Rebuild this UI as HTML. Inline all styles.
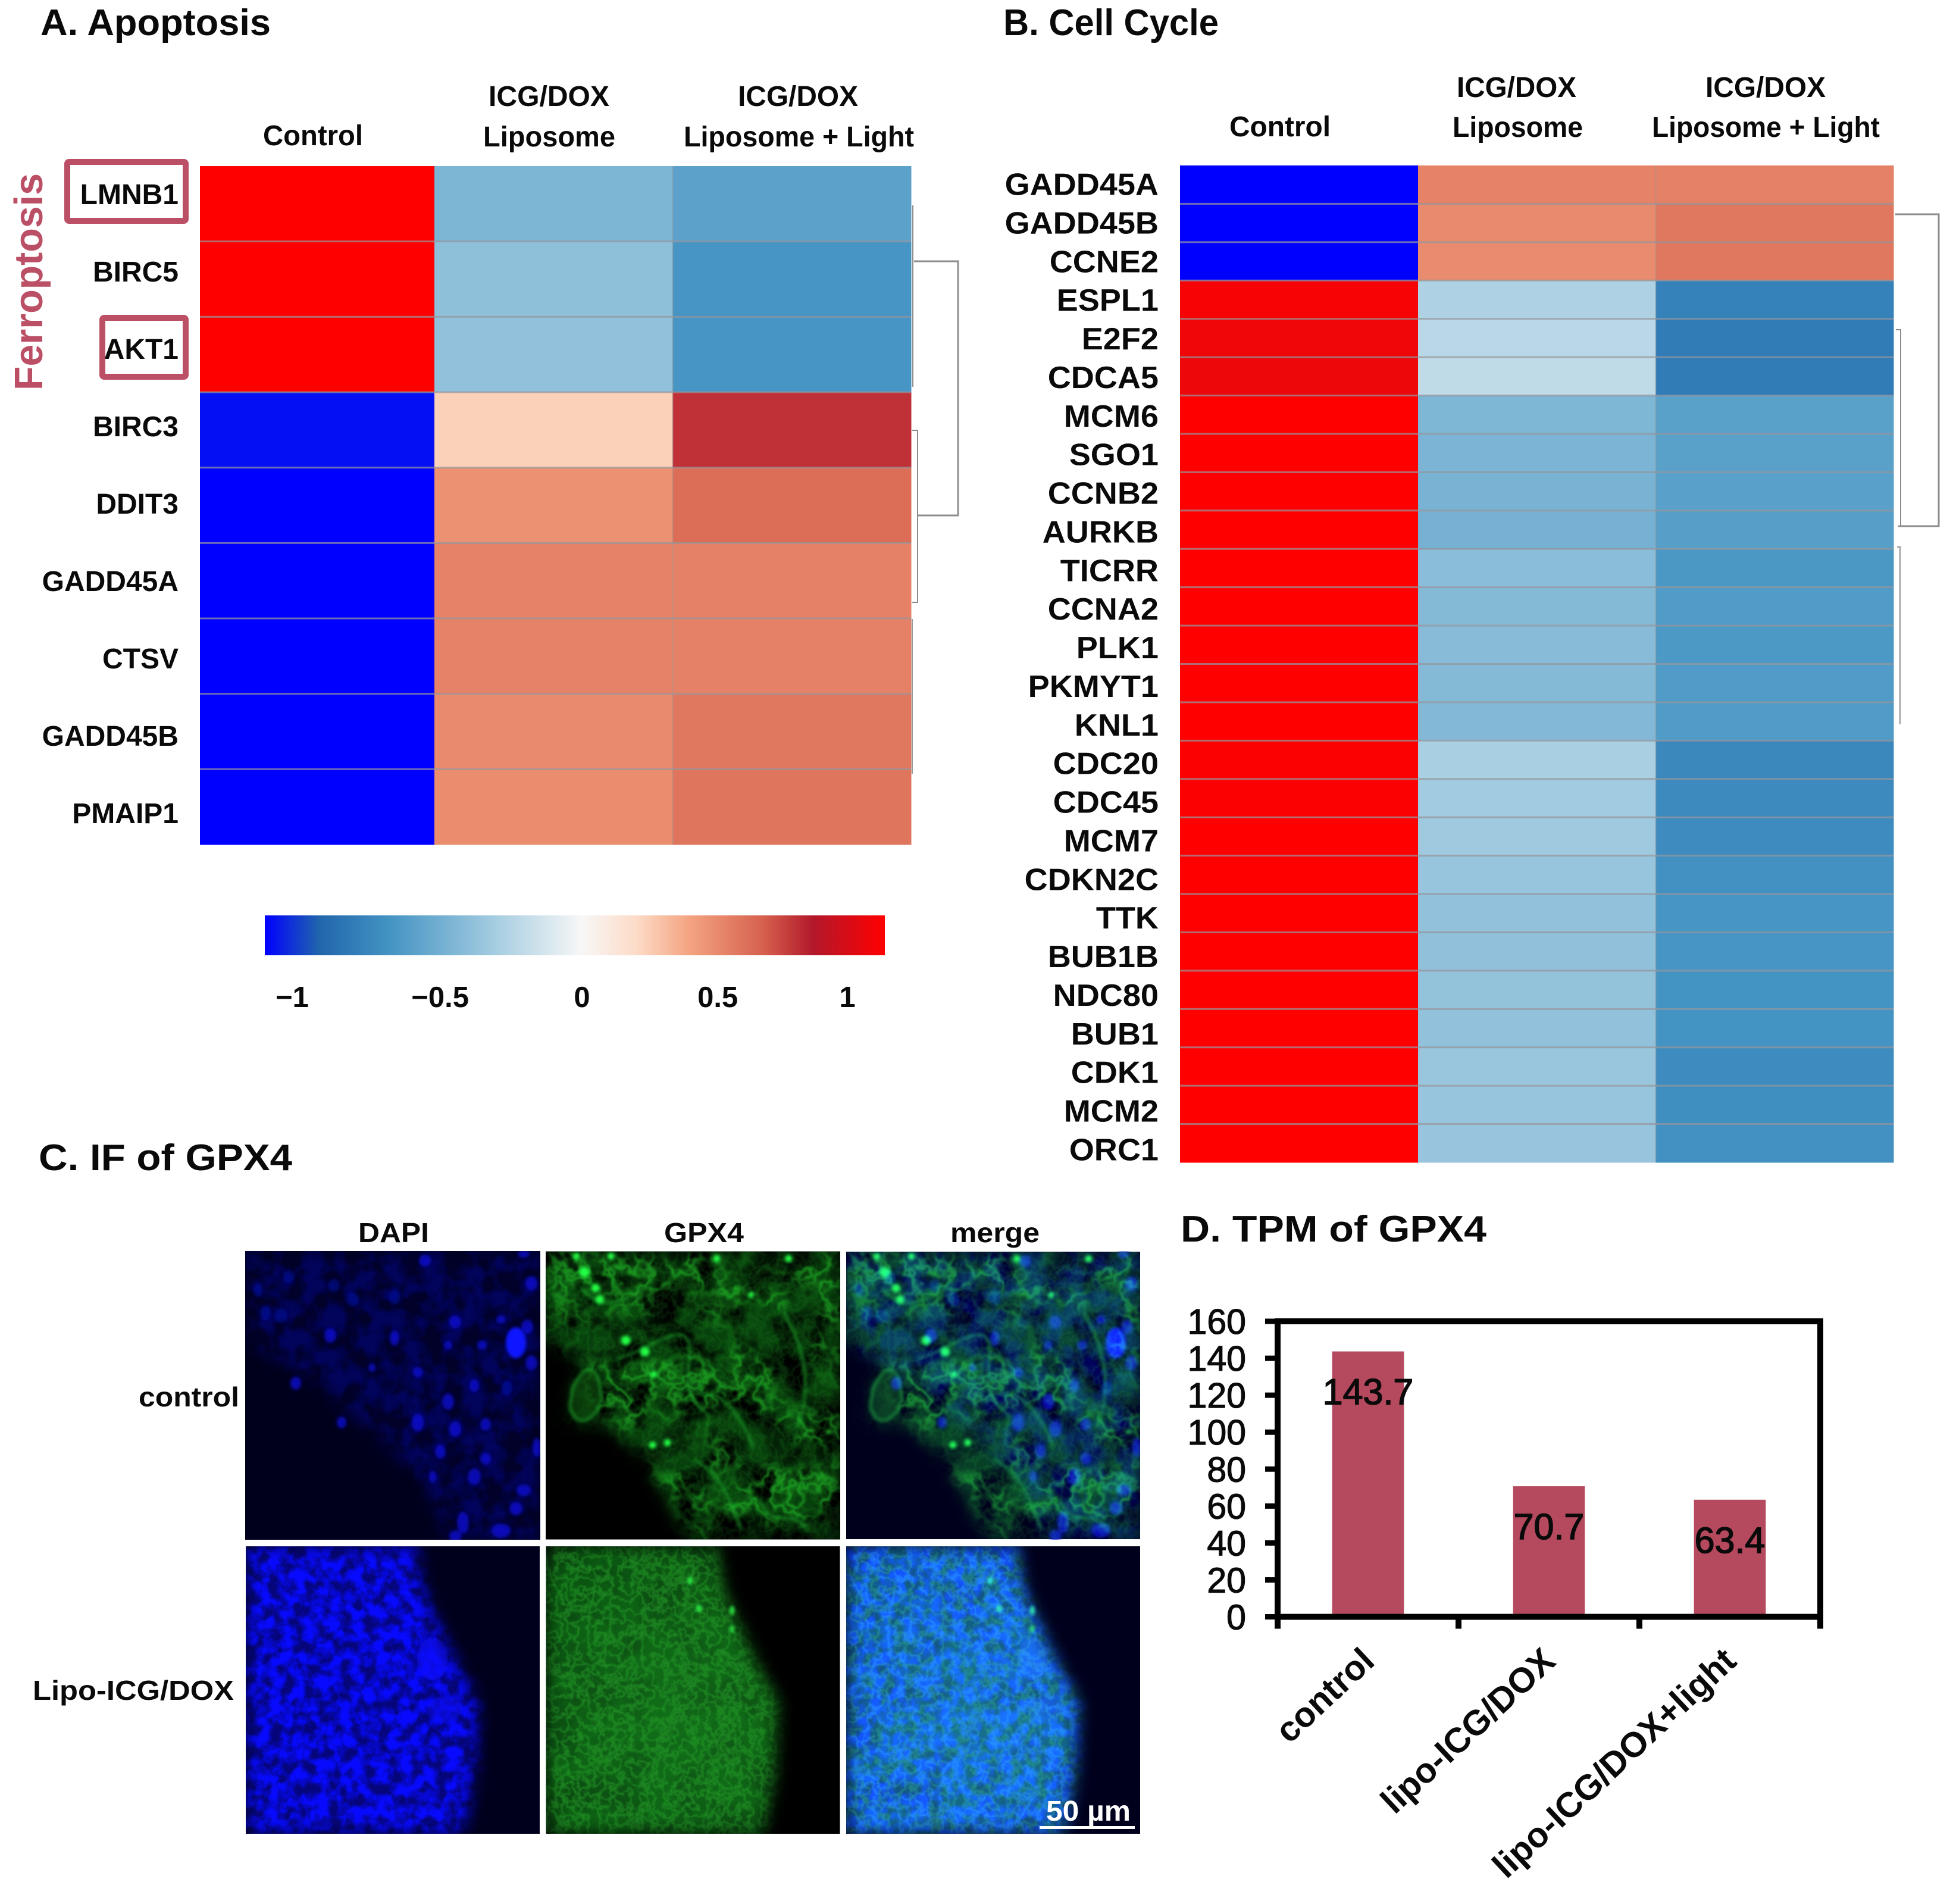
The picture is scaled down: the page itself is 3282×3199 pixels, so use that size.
<!DOCTYPE html>
<html lang="en">
<head>
<meta charset="utf-8">
<title>Apoptosis, cell cycle and GPX4 figure</title>
<style>
html,body{margin:0;padding:0;background:#fff;}
body{width:3282px;height:3199px;overflow:hidden;}
svg text{font-family:"Liberation Sans",sans-serif;fill:#0a0a0a;}
.b{font-weight:bold;}
</style>
</head>
<body>
<svg id="figure" xmlns="http://www.w3.org/2000/svg" width="3282" height="3199" viewBox="0 0 3282 3199" style="display:block">
<defs>
  <filter id="soft" x="-30%" y="-30%" width="160%" height="160%"><feGaussianBlur stdDeviation="3"/></filter>
  <filter id="mask-blur" filterUnits="userSpaceOnUse" x="-40" y="-40" width="576" height="565"><feGaussianBlur stdDeviation="13"/></filter>
  <filter id="blue-noise" filterUnits="userSpaceOnUse" x="0" y="0" width="496" height="485" color-interpolation-filters="sRGB">
    <feTurbulence type="fractalNoise" baseFrequency="0.03" numOctaves="3" seed="4"/>
    <feColorMatrix values="0 0 0 0 0.02  0 0 0 0 0.03  0 0 0 0 0.8  3.2 0 0 0 -1.05"/>
  </filter>
  <filter id="blue-lipo" filterUnits="userSpaceOnUse" x="0" y="0" width="496" height="485" color-interpolation-filters="sRGB">
    <feTurbulence type="fractalNoise" baseFrequency="0.05" numOctaves="3" seed="12"/>
    <feColorMatrix values="0 0 0 0 0.03  0 0 0 0 0.04  0 0 0 0 1  3 0 0 0 -0.95"/>
    <feGaussianBlur stdDeviation="0.8"/>
  </filter>
  <filter id="green-cloud" filterUnits="userSpaceOnUse" x="0" y="0" width="496" height="485" color-interpolation-filters="sRGB">
    <feTurbulence type="fractalNoise" baseFrequency="0.018" numOctaves="3" seed="9"/>
    <feColorMatrix values="0 0 0 0 0.05  0 0 0 0 0.42  0 0 0 0 0.08  3 0 0 0 -0.9"/>
  </filter>
  <filter id="green-veins" filterUnits="userSpaceOnUse" x="0" y="0" width="496" height="485" color-interpolation-filters="sRGB">
    <feTurbulence type="fractalNoise" baseFrequency="0.028" numOctaves="3" seed="21" result="a"/>
    <feColorMatrix in="a" values="0 0 0 0 0.12  0 0 0 0 0.72  0 0 0 0 0.15  1 0 0 0 0"/>
    <feComponentTransfer result="v"><feFuncA type="table" tableValues="0 0 0 0 0 0 0 0 0.2 0.5 0.95 0.5 0.2 0 0 0 0 0 0 0 0"/></feComponentTransfer>
    <feTurbulence type="fractalNoise" baseFrequency="0.011" numOctaves="2" seed="5"/>
    <feColorMatrix values="0 0 0 0 0  0 0 0 0 0  0 0 0 0 0  5 0 0 0 -2.1" result="patch"/>
    <feComposite in="v" in2="patch" operator="in"/>
    <feGaussianBlur stdDeviation="1"/>
  </filter>
  <filter id="green-fine" filterUnits="userSpaceOnUse" x="0" y="0" width="496" height="485" color-interpolation-filters="sRGB">
    <feTurbulence type="fractalNoise" baseFrequency="0.055" numOctaves="3" seed="33"/>
    <feColorMatrix values="0 0 0 0 0.15  0 0 0 0 0.62  0 0 0 0 0.16  1 0 0 0 0"/>
    <feComponentTransfer><feFuncA type="table" tableValues="0 0 0 0 0 0 0 0 0.2 0.45 0.8 0.45 0.2 0 0 0 0 0 0 0 0"/></feComponentTransfer>
    <feGaussianBlur stdDeviation="0.8"/>
  </filter>
  <radialGradient id="lipo-glow" gradientUnits="userSpaceOnUse" cx="230" cy="290" r="300">
    <stop offset="0" stop-color="#1a8a22" stop-opacity=".45"/><stop offset="1" stop-color="#1a8a22" stop-opacity="0"/>
  </radialGradient>
  <mask id="ctrl-dapi-mask" maskUnits="userSpaceOnUse" x="0" y="0" width="496" height="485">
    <polygon points="0,0 496,0 496,485 340,485 300,390 230,320 130,230 0,150" fill="#fff" filter="url(#mask-blur)"/>
  </mask>
  <mask id="ctrl-gfp-mask" maskUnits="userSpaceOnUse" x="0" y="0" width="496" height="485">
    <polygon points="0,0 496,0 496,485 240,485 180,370 110,290 30,290 60,190 0,150" fill="#fff" filter="url(#mask-blur)"/>
  </mask>
  <mask id="lipo-mask" maskUnits="userSpaceOnUse" x="0" y="0" width="496" height="485">
    <polygon points="0,0 288,0 300,75 350,185 392,265 386,385 366,485 0,485" fill="#fff" filter="url(#mask-blur)"/>
  </mask>

  <g id="ctrl-dapi-art">
    <g mask="url(#ctrl-dapi-mask)">
      <rect width="496" height="485" fill="#05059a" opacity="0.1"/>
      <rect width="496" height="485" filter="url(#blue-noise)" opacity="0.3"/>
    </g>
    <g fill="#0a10d8" filter="url(#soft)" opacity=".78">
      <ellipse cx="474" cy="127" rx="10" ry="12"/><ellipse cx="481" cy="188" rx="10" ry="13"/>
      <ellipse cx="341" cy="253" rx="10" ry="14"/><ellipse cx="290" cy="288" rx="10" ry="15"/><ellipse cx="353" cy="299" rx="10" ry="13"/>
      <ellipse cx="404" cy="291" rx="9" ry="11"/><ellipse cx="328" cy="337" rx="9" ry="12"/><ellipse cx="162" cy="288" rx="8" ry="10"/>
      <ellipse cx="85" cy="222" rx="9" ry="11"/><ellipse cx="290" cy="203" rx="8" ry="9"/><ellipse cx="251" cy="146" rx="8" ry="13"/>
      <ellipse cx="143" cy="142" rx="10" ry="12"/><ellipse cx="60" cy="108" rx="11" ry="13" opacity=".55"/><ellipse cx="181" cy="81" rx="10" ry="12" opacity=".55"/>
      <ellipse cx="251" cy="77" rx="10" ry="13" opacity=".55"/><ellipse cx="302" cy="16" rx="10" ry="10"/><ellipse cx="353" cy="119" rx="10" ry="11"/>
      <ellipse cx="398" cy="158" rx="8" ry="8"/><ellipse cx="341" cy="158" rx="7" ry="7"/><ellipse cx="430" cy="115" rx="8" ry="7"/>
      <ellipse cx="481" cy="54" rx="10" ry="12"/><ellipse cx="468" cy="5" rx="10" ry="6"/><ellipse cx="385" cy="379" rx="11" ry="14"/>
      <ellipse cx="468" cy="402" rx="12" ry="10"/><ellipse cx="455" cy="433" rx="11" ry="11"/><ellipse cx="366" cy="456" rx="10" ry="18"/>
      <ellipse cx="353" cy="479" rx="10" ry="10"/><ellipse cx="404" cy="349" rx="9" ry="10"/><ellipse cx="315" cy="379" rx="6" ry="10"/>
      <ellipse cx="213" cy="196" rx="6" ry="7"/><ellipse cx="385" cy="226" rx="8" ry="11"/><ellipse cx="149" cy="58" rx="10" ry="11" opacity=".5"/>
      <ellipse cx="73" cy="43" rx="10" ry="11" opacity=".5"/><ellipse cx="34" cy="104" rx="9" ry="12" opacity=".55"/><ellipse cx="22" cy="66" rx="8" ry="11" opacity=".5"/>
      <ellipse cx="430" cy="470" rx="16" ry="12"/><ellipse cx="490" cy="330" rx="7" ry="16"/><ellipse cx="440" cy="230" rx="9" ry="12" opacity=".6"/>
    </g>
    <ellipse cx="455" cy="154" rx="17" ry="26" fill="#1018ff" filter="url(#soft)"/>
  </g>

  <g id="ctrl-gfp-art">
    <g mask="url(#ctrl-gfp-mask)">
      <rect width="496" height="485" filter="url(#green-cloud)" opacity="0.6"/>
      <rect width="496" height="485" filter="url(#green-veins)" opacity="0.8"/>
      <rect width="496" height="485" filter="url(#green-fine)" opacity="0.25"/>
    </g>
    <g fill="none" stroke="#1fa82a" stroke-width="4" filter="url(#soft)" opacity=".7">
      <path d="M45 230 C70 180 90 190 95 250 C80 290 50 300 40 260Z" fill="#0a4a10"/>
      <path d="M250 350 C300 380 310 420 330 470"/><path d="M360 420 C380 470 420 430 440 470"/>
      <path d="M250 240 C300 230 330 280 350 330"/><path d="M400 100 C440 170 450 240 420 300"/>
      <path d="M120 180 C170 170 220 120 240 150 C250 190 220 240 270 270"/><path d="M60 60 C90 100 120 90 170 60"/>
    </g>
    <g fill="#22ff44" filter="url(#soft)">
      <circle cx="65" cy="35" r="9"/><circle cx="84" cy="62" r="7"/><circle cx="91" cy="81" r="7"/><circle cx="135" cy="150" r="8"/>
      <circle cx="167" cy="169" r="8"/><circle cx="182" cy="207" r="6"/><circle cx="205" cy="322" r="6"/><circle cx="180" cy="326" r="6"/>
      <circle cx="52" cy="8" r="6"/><circle cx="110" cy="8" r="6"/><circle cx="288" cy="12" r="6"/><circle cx="409" cy="12" r="6"/><circle cx="346" cy="73" r="5"/>
    </g>
  </g>

  <g id="lipo-dapi-art">
    <g mask="url(#lipo-mask)">
      <rect width="496" height="485" fill="#06067a"/>
      <rect width="496" height="485" filter="url(#blue-lipo)"/>
      <ellipse cx="315" cy="190" rx="26" ry="36" fill="#1010ff" opacity=".75" filter="url(#soft)"/>
      <ellipse cx="335" cy="275" rx="30" ry="22" fill="#0c0ce6" opacity=".55" filter="url(#soft)"/>
    </g>
  </g>

  <g id="lipo-gfp-art">
    <g mask="url(#lipo-mask)">
      <rect width="496" height="485" fill="#0a4510"/>
      <rect width="496" height="485" filter="url(#green-cloud)" opacity=".6"/>
      <rect width="496" height="485" fill="url(#lipo-glow)"/>
      <rect width="496" height="485" filter="url(#green-fine)" opacity=".8"/>
    </g>
    <g fill="#2cf044" filter="url(#soft)">
      <ellipse cx="243" cy="58" rx="4" ry="7"/><ellipse cx="258" cy="105" rx="5" ry="6"/><ellipse cx="314" cy="108" rx="4" ry="8"/><ellipse cx="314" cy="140" rx="3" ry="7"/>
    </g>
  </g>
</defs>

<rect width="3282" height="3199" fill="#fff"/>

<g id="panel-a">
  <text class="b" x="68" y="59" font-size="62" textLength="387" lengthAdjust="spacingAndGlyphs">A. Apoptosis</text>
  <text class="b" x="442" y="244" font-size="48" textLength="168" lengthAdjust="spacingAndGlyphs">Control</text>
  <text class="b" x="821" y="178" font-size="48" textLength="203" lengthAdjust="spacingAndGlyphs">ICG/DOX</text>
  <text class="b" x="812" y="246" font-size="48" textLength="222" lengthAdjust="spacingAndGlyphs">Liposome</text>
  <text class="b" x="1240" y="178" font-size="48" textLength="202" lengthAdjust="spacingAndGlyphs">ICG/DOX</text>
  <text class="b" x="1149" y="246" font-size="48" textLength="387" lengthAdjust="spacingAndGlyphs">Liposome + Light</text>
  <text class="b" transform="translate(71,656) rotate(-90)" font-size="67" textLength="365" lengthAdjust="spacingAndGlyphs" style="fill:#bb4f65">Ferroptosis</text>
  <g id="heat-a"></g>
  <rect x="113" y="272" width="199" height="99" rx="3" fill="none" stroke="#bb4f65" stroke-width="10"/>
  <rect x="172" y="534" width="140" height="99" rx="3" fill="none" stroke="#bb4f65" stroke-width="10"/>
  <g fill="none" stroke="#8c8c8c" stroke-width="3">
    <path d="M1536 439H1610V866H1543"/>
    <path d="M1534 345V650" stroke-width="2"/>
    <path d="M1533 723H1542V1012H1533" stroke-width="2"/>
    <path d="M1533 1040V1300" stroke="#777" stroke-width="1.5"/>
  </g>
  <rect id="colorbar" x="445" y="1538" width="1042" height="67"/>
  <g id="colorbar-ticks"></g>
</g>

<g id="panel-b">
  <text class="b" x="1686" y="59" font-size="62" textLength="362" lengthAdjust="spacingAndGlyphs">B. Cell Cycle</text>
  <text class="b" x="2066" y="229" font-size="48" textLength="170" lengthAdjust="spacingAndGlyphs">Control</text>
  <text class="b" x="2448" y="163" font-size="48" textLength="201" lengthAdjust="spacingAndGlyphs">ICG/DOX</text>
  <text class="b" x="2441" y="230" font-size="48" textLength="219" lengthAdjust="spacingAndGlyphs">Liposome</text>
  <text class="b" x="2866" y="163" font-size="48" textLength="202" lengthAdjust="spacingAndGlyphs">ICG/DOX</text>
  <text class="b" x="2776" y="230" font-size="48" textLength="383" lengthAdjust="spacingAndGlyphs">Liposome + Light</text>
  <g id="heat-b"></g>
  <g fill="none" stroke="#8c8c8c" stroke-width="3">
    <path d="M3185 360H3258V884H3190"/>
    <path d="M3186 554H3194V884" stroke-width="2"/>
    <path d="M3188 919H3193V1217" stroke-width="3" stroke="#aaa"/>
  </g>
</g>

<g id="panel-c">
  <text class="b" x="65" y="1966" font-size="62" textLength="426" lengthAdjust="spacingAndGlyphs">C. IF of GPX4</text>
  <text class="b" x="602" y="2087" font-size="46" textLength="119" lengthAdjust="spacingAndGlyphs">DAPI</text>
  <text class="b" x="1116" y="2087" font-size="46" textLength="134" lengthAdjust="spacingAndGlyphs">GPX4</text>
  <text class="b" x="1597" y="2087" font-size="46" textLength="150" lengthAdjust="spacingAndGlyphs">merge</text>
  <text class="b" x="233" y="2363" font-size="46" textLength="169" lengthAdjust="spacingAndGlyphs">control</text>
  <text class="b" x="55" y="2856" font-size="46" textLength="338" lengthAdjust="spacingAndGlyphs">Lipo-ICG/DOX</text>

  <svg x="412" y="2102" width="496" height="485" viewBox="0 0 496 485">
    <rect width="496" height="485" fill="#00001c"/><use href="#ctrl-dapi-art"/>
  </svg>
  <svg x="917" y="2102" width="495" height="485" viewBox="0 0 496 485">
    <rect width="496" height="485" fill="#000"/><use href="#ctrl-gfp-art"/>
  </svg>
  <svg x="1422" y="2102" width="494" height="485" viewBox="0 0 496 485">
    <g style="isolation:isolate"><rect width="496" height="485" fill="#00001c"/><use href="#ctrl-dapi-art"/><use href="#ctrl-gfp-art" style="mix-blend-mode:screen"/></g>
  </svg>
  <svg x="412" y="2598" width="496" height="483" viewBox="0 0 496 485">
    <rect width="496" height="485" fill="#00001c"/><use href="#lipo-dapi-art"/>
  </svg>
  <svg x="917" y="2598" width="495" height="483" viewBox="0 0 496 485">
    <rect width="496" height="485" fill="#000"/><use href="#lipo-gfp-art"/>
  </svg>
  <svg x="1422" y="2598" width="494" height="483" viewBox="0 0 496 485">
    <g style="isolation:isolate"><rect width="496" height="485" fill="#00001c"/><use href="#lipo-dapi-art"/><use href="#lipo-gfp-art" style="mix-blend-mode:screen"/></g>
  </svg>
  <text class="b" x="1758" y="3059" font-size="48" textLength="142" lengthAdjust="spacingAndGlyphs" style="fill:#fff">50 µm</text>
  <rect x="1747" y="3068" width="160" height="5" fill="#fff"/>
</g>

<g id="panel-d">
  <text class="b" x="1984" y="2086" font-size="62" textLength="514" lengthAdjust="spacingAndGlyphs">D. TPM of GPX4</text>
  <g id="bar-chart"></g>
</g>

<script>
/* ---------- heatmap data ---------- */
const apoptosisGenes = ['LMNB1','BIRC5','AKT1','BIRC3','DDIT3','GADD45A','CTSV','GADD45B','PMAIP1'];
const apoptosisControl = [1.1,1.1,1.1,-1.12,-1.15,-1.15,-1.15,-1.15,-1.15];
const apoptosisLiposome = [-0.473,-0.402,-0.39,0.234,0.461,0.524,0.524,0.493,0.481];
const apoptosisLight = [-0.606,-0.688,-0.688,0.777,0.608,0.528,0.53,0.568,0.576];

const cellCycleGenes = ['GADD45A','GADD45B','CCNE2','ESPL1','E2F2','CDCA5','MCM6','SGO1','CCNB2','AURKB','TICRR','CCNA2','PLK1','PKMYT1','KNL1','CDC20','CDC45','MCM7','CDKN2C','TTK','BUB1B','NDC80','BUB1','CDK1','MCM2','ORC1'];
const cellCycleControl = [-1.15,-1.15,-1.15,1.07,1.05,1.04,1.1,1.1,1.1,1.1,1.1,1.1,1.1,1.1,1.1,1.09,1.09,1.1,1.1,1.1,1.1,1.1,1.1,1.1,1.1,1.1];
const cellCycleLiposome = [0.524,0.493,0.49,-0.28,-0.24,-0.21,-0.47,-0.48,-0.49,-0.5,-0.42,-0.44,-0.435,-0.44,-0.45,-0.3,-0.33,-0.34,-0.37,-0.39,-0.4,-0.385,-0.395,-0.36,-0.37,-0.365];
const cellCycleLight = [0.53,0.568,0.568,-0.8,-0.835,-0.835,-0.61,-0.61,-0.615,-0.62,-0.67,-0.65,-0.66,-0.65,-0.65,-0.76,-0.75,-0.74,-0.71,-0.69,-0.69,-0.7,-0.695,-0.74,-0.72,-0.71];

/* ---------- colour scale ---------- */
const scaleValues = [-1.15,-0.95,-0.7,-0.3,0,0.2,0.385,0.66,0.84,1.1];
const scaleColors = ['#0000ff','#2166ac','#4393c3','#a9cfe2','#f7f7f7','#fddbc7','#f4a582','#d6604d','#b2182b','#ff0000'];
const colorbarTickValues = [-1,-0.5,0,0.5,1];
const colorbarTickLabels = ['\u22121','\u22120.5','0','0.5','1'];

/* ---------- bar chart data ---------- */
const barCategories = ['control','lipo-ICG/DOX','lipo-ICG/DOX+light'];
const barValues = [143.7,70.7,63.4];
const barYTicks = [0,20,40,60,80,100,120,140,160];

const NS = 'http://www.w3.org/2000/svg';
function make(tag, attrs, parent) {
  const el = document.createElementNS(NS, tag);
  for (const k in attrs) el.setAttribute(k, attrs[k]);
  parent.appendChild(el);
  return el;
}
function hexRgb(h) { return [1,3,5].map(i => parseInt(h.substr(i,2),16)); }
function colorFor(v) {
  const n = scaleValues.length;
  if (v <= scaleValues[0]) return scaleColors[0];
  if (v >= scaleValues[n-1]) return scaleColors[n-1];
  for (let i = 0; i < n-1; i++) {
    if (v <= scaleValues[i+1]) {
      const t = (v - scaleValues[i]) / (scaleValues[i+1] - scaleValues[i]);
      const a = hexRgb(scaleColors[i]), b = hexRgb(scaleColors[i+1]);
      return 'rgb(' + a.map((c,j) => Math.round(c + (b[j]-c)*t)).join(',') + ')';
    }
  }
}

function drawHeatmap(root, genes, cols, g) {
  const rowH = (g.bottom - g.top) / genes.length;
  const restW = (g.right - g.left - g.firstCol) / 2;
  const colX = j => j === 0 ? g.left : g.left + g.firstCol + (j-1)*restW;
  const colW = j => j === 0 ? g.firstCol : restW;
  genes.forEach((gene, i) => {
    cols.forEach((col, j) => {
      const cell = make('rect', {x: colX(j), y: g.top + i*rowH, width: colW(j)+0.5, height: rowH+0.5, fill: colorFor(col[i])}, root);
      
      
    });
    const label = make('text', {'transform': 'translate(' + g.labelRight + ',' + (g.labelY0 + i*g.labelStep) + ') scale(' + g.labelSx + ',1)', 'text-anchor': 'end', 'font-size': g.labelSize, 'class': 'b'}, root);
    label.textContent = gene;
    
    
  });
  for (let i = 1; i < genes.length; i++) {
    const line = make('rect', {x: g.left, y: g.top + i*rowH - 1.5, width: g.right - g.left, height: 3, fill: 'rgba(150,150,155,0.72)'}, root);
    
    
  }
  const vline = make('rect', {x: colX(2) - 1, y: g.top, width: 2, height: g.bottom - g.top, fill: 'rgba(150,150,150,0.4)'}, root);
  
  
}

drawHeatmap(document.getElementById('heat-a'), apoptosisGenes, [apoptosisControl, apoptosisLiposome, apoptosisLight],
  {left:336, right:1531, firstCol:394, top:279, bottom:1419, labelRight:300, labelY0:343, labelStep:130, labelSize:48, labelSx:1});
drawHeatmap(document.getElementById('heat-b'), cellCycleGenes, [cellCycleControl, cellCycleLiposome, cellCycleLight],
  {left:1983, right:3182, firstCol:400, top:278, bottom:1953, labelRight:1947, labelY0:327.5, labelStep:64.88, labelSize:52, labelSx:1.04});

/* ---------- colorbar ---------- */
(function () {
  const defs = document.querySelector('#figure defs');
  const grad = make('linearGradient', {id:'colorbar-gradient', x1:0, x2:1, y1:0, y2:0}, defs);
  const lo = scaleValues[0], hi = scaleValues[scaleValues.length-1];
  scaleValues.forEach((v,i) => make('stop', {offset: (v-lo)/(hi-lo), 'stop-color': scaleColors[i]}, grad));
  const bar = document.getElementById('colorbar');
  bar.setAttribute('fill', 'url(#colorbar-gradient)');
  const barX = v => 978 + 466.5 * v - 20.5 * v * v;
  const ticks = document.getElementById('colorbar-ticks');
  colorbarTickValues.forEach((v,i) => {
    const t = make('text', {x: barX(v), y: 1692, 'text-anchor':'middle', 'font-size':49, 'class':'b'}, ticks);
    t.textContent = colorbarTickLabels[i];
    
    
  });
})();

/* ---------- bar chart ---------- */
(function () {
  const root = document.getElementById('bar-chart');
  const plot = {left:2147, right:3059, top:2220, bottom:2716.5, max:160};
  const yScale = v => plot.bottom - (v / plot.max) * (plot.bottom - plot.top);
  const band = (plot.right - plot.left) / barCategories.length;
  const xCenter = i => plot.left + band * (i + 0.5);
  const barW = band * 0.397;

  barCategories.forEach((cat, i) => {
    const top = yScale(barValues[i]);
    const bar = make('rect', {x: xCenter(i) - barW/2, y: top, width: barW, height: plot.bottom - top, fill:'#b54a5e'}, root);
    
    
  });

  const frame = make('rect', {x: plot.left, y: plot.top, width: plot.right - plot.left, height: plot.bottom - plot.top, fill:'none', stroke:'#000', 'stroke-width':10}, root);
  
  

  barYTicks.forEach(v => {
    const y = yScale(v);
    const tick = make('line', {x1: plot.left - 21, x2: plot.left, y1: y, y2: y, stroke:'#000', 'stroke-width':9}, root);
    
    
    const t = make('text', {x: 2094, y: y + 21, 'text-anchor':'end', 'font-size':59, 'stroke':'#0a0a0a', 'stroke-width':1.2}, root);
    t.textContent = v;
    
    
  });

  for (let i = 0; i <= barCategories.length; i++) {
    const x = plot.left + band * i;
    const tick = make('line', {x1: x, x2: x, y1: plot.bottom, y2: plot.bottom + 20, stroke:'#000', 'stroke-width':10}, root);
    
    
  }

  barCategories.forEach((cat, i) => {
    const t = make('text', {x: xCenter(i), y: yScale(barValues[i]) + 89, 'text-anchor':'middle', 'font-size':61, 'stroke':'#0a0a0a', 'stroke-width':1.6}, root);
    t.textContent = barValues[i];
    
    
    const lbl = make('text', {transform: 'translate(' + (xCenter(i) + 14) + ',2795) rotate(-43)', 'text-anchor':'end', 'font-size':59, 'class':'b'}, root);
    lbl.textContent = cat;
    
    
  });
})();
</script>
</svg>
</body>
</html>
